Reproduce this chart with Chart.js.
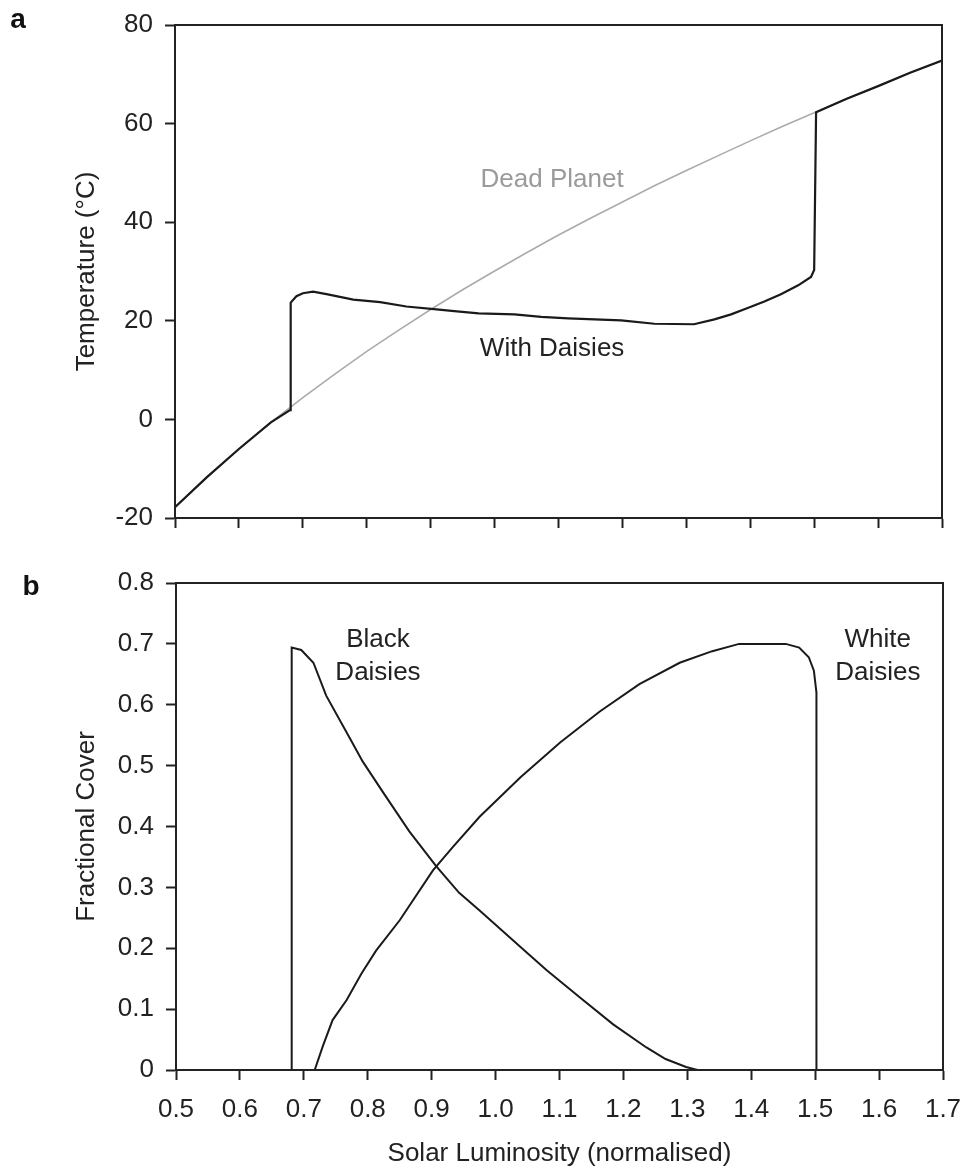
<!DOCTYPE html>
<html>
<head>
<meta charset="utf-8">
<title>Daisyworld</title>
<script src="https://cdn.jsdelivr.net/npm/chart.js@4/dist/chart.umd.min.js"></script>
<style>
  html, body { margin: 0; padding: 0; background: #fff; }
  #wrap { position: relative; width: 964px; height: 1167px; overflow: hidden; }
  #chart-a { position: absolute; left: 0; top: 0; }
  #chart-b { position: absolute; left: 0; top: 560px; }
</style>
</head>
<body>
<div id="wrap">
  <canvas id="chart-a" width="964" height="560"></canvas>
  <canvas id="chart-b" width="964" height="607"></canvas>
</div>
<script>
// 數據
const lumTicks = [0.5, 0.6, 0.7, 0.8, 0.9, 1.0, 1.1, 1.2, 1.3, 1.4, 1.5, 1.6, 1.7];
const tempTicks = [-20, 0, 20, 40, 60, 80];
const coverTicks = [0, 0.1, 0.2, 0.3, 0.4, 0.5, 0.6, 0.7, 0.8];

// a: Dead Planet
const deadL = [0.5, 0.55, 0.6, 0.65, 0.7, 0.75, 0.8, 0.85, 0.9, 0.95, 1.0, 1.05, 1.1, 1.15,
               1.2, 1.25, 1.3, 1.35, 1.4, 1.45, 1.5, 1.55, 1.6, 1.65, 1.7];
const deadT = [-17.8, -11.7, -6.0, -0.6, 4.4, 9.2, 13.8, 18.1, 22.3, 26.3, 30.1, 33.8, 37.4, 40.8,
               44.1, 47.4, 50.5, 53.5, 56.5, 59.4, 62.2, 65.0, 67.6, 70.3, 72.8];

// a: With Daisies
const daisyL = [0.5, 0.55, 0.6, 0.65, 0.68, 0.681, 0.69, 0.70, 0.716, 0.737, 0.779, 0.821, 0.862,
                0.909, 0.941, 0.975, 1.031, 1.073, 1.115, 1.198, 1.25, 1.312, 1.344, 1.37, 1.396,
                1.422, 1.448, 1.475, 1.495, 1.50, 1.503, 1.55, 1.6, 1.65, 1.7];
const daisyT = [-17.8, -11.7, -6.0, -0.6, 1.9, 23.7, 25.0, 25.6, 25.9, 25.4, 24.3, 23.8, 22.9,
                22.3, 21.9, 21.5, 21.3, 20.8, 20.5, 20.1, 19.4, 19.3, 20.3, 21.3, 22.6,
                23.9, 25.4, 27.2, 28.9, 30.3, 62.3, 65.0, 67.6, 70.3, 72.8];

// b: Black Daisies
const blackL = [0.681, 0.681, 0.696, 0.715, 0.735, 0.772, 0.792, 0.824, 0.865, 0.907, 0.943, 0.975,
                1.039, 1.080, 1.132, 1.184, 1.236, 1.266, 1.298, 1.316];
const blackCover = [0, 0.694, 0.690, 0.669, 0.615, 0.545, 0.507, 0.456, 0.392, 0.335, 0.291, 0.262,
                    0.202, 0.164, 0.119, 0.075, 0.037, 0.018, 0.005, 0];

// b: White Daisies
const whiteL = [0.717, 0.73, 0.745, 0.767, 0.79, 0.813, 0.85, 0.902, 0.933, 0.975, 1.039, 1.101,
                1.163, 1.225, 1.288, 1.339, 1.381, 1.454, 1.475, 1.490, 1.498, 1.502, 1.502];
const whiteCover = [0, 0.04, 0.082, 0.115, 0.158, 0.196, 0.246, 0.328, 0.366, 0.416, 0.481, 0.538,
                    0.589, 0.634, 0.669, 0.688, 0.700, 0.700, 0.694, 0.678, 0.656, 0.62, 0];

const INK = '#222';
const FONT = "'Liberation Sans', Arial, sans-serif";
Chart.defaults.font.family = FONT;
Chart.defaults.font.size = 26;
Chart.defaults.color = INK;

function zip(xs, ys) {
    return xs.map((x, i) => ({ x: x, y: ys[i] }));
}

// 外框 + 文字標註
const framePlugin = {
    id: 'frame',
    afterDraw(chart, args, opts) {
        const { ctx, chartArea: a, scales } = chart;
        ctx.save();
        ctx.strokeStyle = INK;
        ctx.lineWidth = 2;
        ctx.strokeRect(a.left, a.top, a.right - a.left, a.bottom - a.top);
        ctx.textAlign = 'center';
        ctx.textBaseline = 'middle';
        (opts.notes || []).forEach(n => {
            ctx.fillStyle = n.color || INK;
            ctx.font = '26px ' + FONT;
            const px = scales.x.getPixelForValue(n.x);
            n.lines.forEach((t, i) => {
                ctx.fillText(t, px, scales.y.getPixelForValue(n.y[i]));
            });
        });
        if (opts.letter) {
            ctx.fillStyle = '#111';
            ctx.font = 'bold 28px ' + FONT;
            ctx.fillText(opts.letter.text, opts.letter.x, opts.letter.y);
        }
        ctx.restore();
    }
};

function axisStyle() {
    return {
        border: { color: INK, width: 2 },
        grid: { drawOnChartArea: false, drawTicks: true, tickLength: 10, tickWidth: 2, tickColor: INK }
    };
}

function lineSet(data, color, width) {
    return {
        data: data,
        showLine: true,
        borderColor: color,
        borderWidth: width,
        pointRadius: 0,
        tension: 0,
        fill: false
    };
}

// 圖 a: 溫度
new Chart(document.getElementById('chart-a'), {
    type: 'scatter',
    data: {
        datasets: [
            lineSet(zip(daisyL, daisyT), '#1a1a1a', 2.2),
            lineSet(zip(deadL, deadT), '#ababab', 1.6)
        ]
    },
    options: {
        responsive: false,
        animation: false,
        layout: { padding: { left: 68, right: 22, top: 25, bottom: 0 } },
        plugins: {
            legend: { display: false },
            tooltip: { enabled: false },
            frame: {
                notes: [
                    { lines: ['Dead Planet'], x: 1.09, y: [48.6], color: '#9a9a9a' },
                    { lines: ['With Daisies'], x: 1.09, y: [14.3] }
                ],
                letter: { text: 'a', x: 18, y: 20 }
            }
        },
        scales: {
            x: Object.assign(axisStyle(), {
                type: 'linear', min: 0.5, max: 1.7,
                afterBuildTicks: s => { s.ticks = lumTicks.map(v => ({ value: v })); },
                afterFit: s => { s.height = 42; },
                ticks: { color: 'rgba(0,0,0,0)', autoSkip: false, padding: 2 }
            }),
            y: Object.assign(axisStyle(), {
                min: -20, max: 80,
                afterBuildTicks: s => { s.ticks = tempTicks.map(v => ({ value: v })); },
                afterFit: s => { s.width = 107; },
                ticks: { padding: 12, font: { size: 26, lineHeight: 0.5 } },
                title: { display: true, text: 'Temperature (°C)', padding: { top: 3, bottom: 0 } }
            })
        }
    },
    plugins: [framePlugin]
});

// 圖 b: 覆蓋率
new Chart(document.getElementById('chart-b'), {
    type: 'scatter',
    data: {
        datasets: [
            lineSet(zip(blackL, blackCover), '#1a1a1a', 2),
            lineSet(zip(whiteL, whiteCover), '#1a1a1a', 2)
        ]
    },
    options: {
        responsive: false,
        animation: false,
        layout: { padding: { left: 68, right: 21, top: 23, bottom: 0 } },
        plugins: {
            legend: { display: false },
            tooltip: { enabled: false },
            frame: {
                notes: [
                    { lines: ['Black', 'Daisies'], x: 0.816, y: [0.707, 0.653] },
                    { lines: ['White', 'Daisies'], x: 1.598, y: [0.707, 0.653] }
                ],
                letter: { text: 'b', x: 31, y: 27 }
            }
        },
        scales: {
            x: Object.assign(axisStyle(), {
                type: 'linear', min: 0.5, max: 1.7,
                afterBuildTicks: s => { s.ticks = lumTicks.map(v => ({ value: v })); },
                afterFit: s => { s.height = 97; },
                ticks: {
                    padding: 2, autoSkip: false, maxRotation: 0,
                    font: { size: 26, lineHeight: 2.15 },
                    callback: v => v.toFixed(1)
                },
                title: {
                    display: true, text: 'Solar Luminosity (normalised)',
                    font: { size: 26, lineHeight: 1 }, padding: 0
                }
            }),
            y: Object.assign(axisStyle(), {
                min: 0, max: 0.8,
                afterBuildTicks: s => { s.ticks = coverTicks.map(v => ({ value: v })); },
                afterFit: s => { s.width = 108; },
                ticks: {
                    padding: 12, font: { size: 26, lineHeight: 0.5 },
                    callback: v => (v === 0 ? '0' : v.toFixed(1))
                },
                title: { display: true, text: 'Fractional Cover', padding: { top: 3, bottom: 0 } }
            })
        }
    },
    plugins: [framePlugin]
});
</script>
</body>
</html>
